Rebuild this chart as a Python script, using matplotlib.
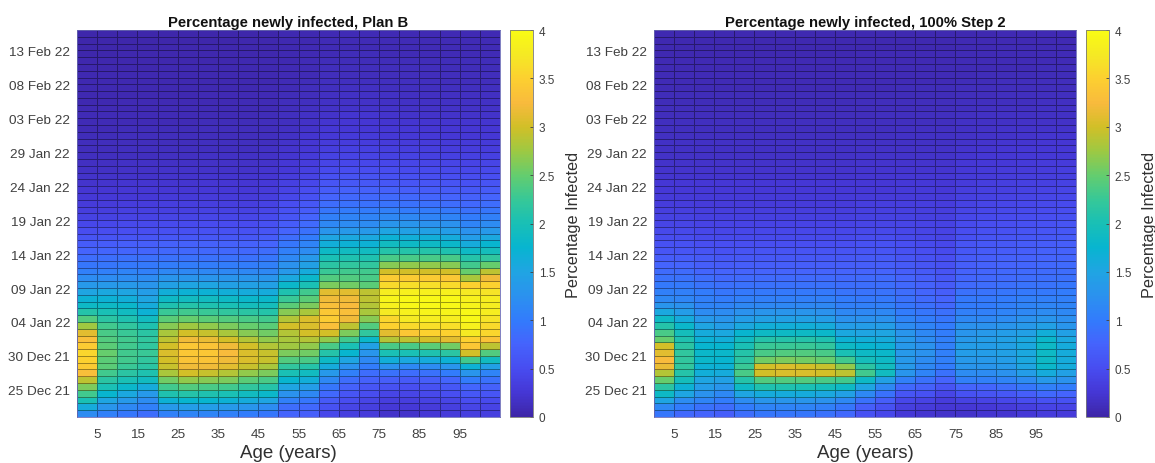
import numpy as np
import matplotlib
matplotlib.use('Agg')
import matplotlib.pyplot as plt
from matplotlib.colors import LinearSegmentedColormap

plt.rcParams['font.family'] = ['Liberation Sans', 'DejaVu Sans']

# Age bands are 5 years wide, rows are one day each, first row is 21 Dec 21
age_edges = np.arange(0, 110, 5)
day_edges = np.arange(0, 58)

x_ticks = [5, 15, 25, 35, 45, 55, 65, 75, 85, 95]
y_ticks = [4, 9, 14, 19, 24, 29, 34, 39, 44, 49, 54]
y_labels = ['25 Dec 21', '30 Dec 21', '04 Jan 22', '09 Jan 22', '14 Jan 22', '19 Jan 22',
            '24 Jan 22', '29 Jan 22', '03 Feb 22', '08 Feb 22', '13 Feb 22']
cbar_ticks = [0, 0.5, 1, 1.5, 2, 2.5, 3, 3.5, 4]
cbar_labels = ['0', '0.5', '1', '1.5', '2', '2.5', '3', '3.5', '4']

# Percentage newly infected, bottom row first
plan_b = [
    [1.2,1.05,.95,.85,1.05,1.1,1.1,1.05,1.0,.95,.75,.7,.45,.35,.3,.2,.2,.25,.3,.35,.35],
    [1.6,1.3,1.15,1.05,1.35,1.4,1.4,1.35,1.3,1.2,.85,.8,.55,.42,.35,.28,.28,.3,.35,.42,.4],
    [2.0,1.5,1.35,1.2,1.7,1.75,1.75,1.7,1.6,1.5,1.05,.95,.65,.5,.42,.34,.34,.38,.42,.5,.48],
    [2.3,1.75,1.55,1.35,2.05,2.1,2.05,2.0,1.9,1.8,1.25,1.15,.8,.6,.5,.42,.42,.46,.52,.62,.6],
    [2.6,2.0,1.8,1.6,2.3,2.4,2.35,2.3,2.2,2.1,1.5,1.4,.95,.72,.6,.55,.52,.56,.62,.78,.72],
    [2.9,2.15,2.0,1.9,2.55,2.7,2.65,2.6,2.45,2.35,1.75,1.65,1.15,.85,.72,.7,.65,.7,.78,1.0,.9],
    [3.3,2.3,2.15,2.05,2.8,3.0,2.95,2.85,2.7,2.6,2.0,1.9,1.35,1.05,.85,.9,.85,.9,1.0,1.3,1.1],
    [3.45,2.45,2.25,2.15,2.95,3.2,3.2,3.1,2.95,2.8,2.2,2.1,1.6,1.25,1.0,1.25,1.15,1.2,1.3,1.7,1.45],
    [3.5,2.45,2.3,2.2,3.0,3.35,3.35,3.2,3.05,2.95,2.4,2.35,1.85,1.5,1.15,1.65,1.55,1.6,1.7,2.3,1.9],
    [3.55,2.5,2.3,2.25,3.05,3.4,3.4,3.25,3.05,2.95,2.6,2.55,2.1,1.75,1.3,2.0,2.0,2.05,2.15,3.0,2.4],
    [3.45,2.45,2.3,2.2,3.0,3.4,3.35,3.2,3.0,2.85,2.75,2.7,2.35,2.0,1.45,2.35,2.35,2.45,2.55,3.4,2.9],
    [3.3,2.4,2.3,2.2,2.9,3.2,3.15,3.0,2.85,2.7,2.8,2.85,2.7,2.3,1.8,2.85,2.9,3.0,3.1,3.5,3.35],
    [3.1,2.35,2.25,2.15,2.8,3.0,2.95,2.8,2.65,2.55,2.85,3.0,3.0,2.6,2.2,3.1,3.4,3.5,3.5,3.75,3.55],
    [2.75,2.3,2.2,2.05,2.65,2.75,2.7,2.6,2.5,2.45,3.0,3.05,3.3,2.9,2.4,3.5,3.6,3.65,3.65,3.85,3.6],
    [2.4,2.15,2.05,1.9,2.45,2.5,2.45,2.4,2.35,2.3,2.85,3.05,3.45,3.2,2.65,3.55,3.75,3.8,3.8,3.95,3.7],
    [2.1,2.0,1.9,1.7,2.25,2.3,2.25,2.2,2.15,2.1,2.65,2.8,3.4,3.3,2.8,3.75,3.85,3.9,3.9,3.95,3.8],
    [1.85,1.85,1.8,1.6,2.05,2.1,2.05,2.0,1.95,1.95,2.45,2.6,3.3,3.25,2.85,3.85,3.95,3.95,3.95,3.9,3.8],
    [1.7,1.7,1.65,1.5,1.85,1.9,1.9,1.85,1.8,1.8,2.25,2.45,3.2,3.2,2.9,3.9,3.95,3.95,3.95,3.85,3.8],
    [1.5,1.55,1.5,1.4,1.65,1.7,1.7,1.65,1.6,1.6,2.05,2.3,3.1,3.1,2.9,3.8,3.85,3.85,3.85,3.75,3.7],
    [1.35,1.35,1.35,1.3,1.45,1.5,1.5,1.45,1.45,1.45,1.8,2.0,2.6,2.55,2.45,3.6,3.65,3.65,3.6,3.5,3.5],
    [1.2,1.2,1.2,1.2,1.3,1.3,1.3,1.3,1.3,1.3,1.55,1.8,2.4,2.4,2.35,3.45,3.45,3.45,3.4,2.8,3.2],
    [1.05,1.05,1.1,1.05,1.15,1.15,1.15,1.15,1.15,1.15,1.35,1.6,2.25,2.3,2.3,3.0,3.0,3.0,3.0,2.5,2.9],
    [.95,.95,.98,.98,1.02,1.02,1.02,1.02,1.02,1.05,1.25,1.45,2.15,2.2,2.2,2.65,2.7,2.7,2.65,2.3,2.5],
    [.85,.87,.88,.88,.9,.9,.9,.9,.9,.95,1.15,1.35,2.0,2.05,2.05,2.35,2.35,2.35,2.35,2.1,2.2],
    [.75,.78,.78,.78,.8,.8,.8,.8,.8,.85,1.05,1.2,1.85,1.9,1.9,2.1,2.1,2.1,2.05,1.85,1.95],
    [.68,.68,.7,.7,.72,.72,.72,.72,.72,.75,.95,1.1,1.65,1.7,1.7,1.9,1.85,1.85,1.8,1.6,1.75],
    [.58,.58,.6,.6,.62,.62,.62,.62,.62,.68,.85,1.0,1.5,1.55,1.55,1.7,1.65,1.65,1.6,1.4,1.55],
    [.5,.5,.52,.52,.54,.54,.55,.55,.55,.6,.75,.9,1.3,1.35,1.35,1.5,1.45,1.45,1.4,1.25,1.35],
    [.44,.44,.46,.46,.48,.48,.49,.49,.49,.54,.68,.82,1.15,1.2,1.2,1.3,1.3,1.25,1.25,1.1,1.2],
    [.38,.38,.4,.4,.42,.42,.43,.43,.43,.48,.6,.75,1.05,1.1,1.1,1.15,1.15,1.1,1.1,1.0,1.05],
    [.34,.34,.36,.36,.37,.37,.38,.38,.38,.43,.55,.68,.95,1.0,1.0,1.05,1.0,1.0,.98,.9,.95],
    [.3,.3,.32,.32,.33,.33,.34,.34,.34,.38,.5,.62,.85,.9,.9,.92,.9,.88,.85,.8,.85],
    [.27,.27,.28,.28,.29,.29,.3,.3,.3,.34,.45,.55,.75,.8,.8,.82,.8,.78,.75,.72,.75],
    [.24,.24,.25,.25,.26,.26,.27,.27,.27,.3,.4,.5,.68,.72,.72,.72,.7,.68,.66,.64,.66],
    [.21,.21,.22,.22,.23,.23,.24,.24,.24,.27,.36,.45,.6,.64,.64,.62,.6,.6,.58,.56,.58],
    [.19,.19,.2,.2,.21,.21,.22,.22,.22,.24,.32,.4,.54,.57,.57,.56,.54,.53,.52,.5,.52],
    [.17,.17,.18,.18,.19,.19,.2,.2,.2,.22,.28,.36,.48,.5,.5,.5,.48,.47,.46,.45,.46],
    [.15,.15,.16,.16,.17,.17,.18,.18,.18,.2,.25,.32,.42,.45,.45,.44,.43,.42,.41,.4,.41],
    [.14,.14,.14,.14,.15,.15,.16,.16,.16,.18,.23,.29,.38,.4,.4,.39,.38,.37,.36,.36,.36],
    [.12,.12,.13,.13,.14,.14,.14,.14,.14,.16,.21,.26,.34,.36,.36,.35,.34,.33,.32,.32,.32],
    [.11,.11,.12,.12,.12,.12,.13,.13,.13,.14,.19,.24,.3,.32,.32,.31,.3,.3,.29,.29,.29],
    [.1,.1,.11,.11,.11,.11,.12,.12,.12,.13,.17,.22,.27,.29,.29,.28,.27,.27,.26,.26,.26],
    [.09,.09,.1,.1,.1,.1,.11,.11,.11,.12,.15,.2,.25,.26,.26,.25,.25,.24,.24,.24,.24],
    [.08,.08,.09,.09,.09,.09,.1,.1,.1,.11,.14,.18,.22,.24,.24,.23,.22,.22,.22,.22,.22],
    [.08,.08,.08,.08,.08,.08,.09,.09,.09,.1,.13,.16,.2,.22,.22,.21,.2,.2,.2,.2,.2],
    [.07,.07,.07,.07,.08,.08,.08,.08,.08,.09,.12,.15,.18,.2,.2,.19,.18,.18,.18,.18,.18],
    [.06,.06,.07,.07,.07,.07,.07,.07,.08,.08,.11,.14,.17,.18,.18,.17,.17,.16,.16,.16,.16],
    [.06,.06,.06,.06,.06,.06,.07,.07,.07,.07,.1,.12,.15,.16,.16,.16,.15,.15,.15,.15,.15],
    [.05,.05,.06,.06,.06,.06,.06,.06,.06,.07,.09,.11,.14,.15,.15,.14,.14,.14,.14,.14,.14],
    [.05,.05,.05,.05,.05,.05,.06,.06,.06,.06,.08,.1,.13,.14,.14,.13,.13,.13,.12,.12,.12],
    [.05,.05,.05,.05,.05,.05,.05,.05,.05,.06,.07,.09,.12,.12,.12,.12,.12,.12,.11,.11,.11],
    [.04,.04,.04,.04,.05,.05,.05,.05,.05,.05,.07,.09,.11,.11,.11,.11,.11,.11,.1,.1,.1],
    [.04,.04,.04,.04,.04,.04,.04,.04,.05,.05,.06,.08,.1,.1,.1,.1,.1,.1,.1,.1,.1],
    [.03,.03,.04,.04,.04,.04,.04,.04,.04,.04,.06,.07,.09,.1,.1,.09,.09,.09,.09,.09,.09],
    [.03,.03,.03,.03,.04,.04,.04,.04,.04,.04,.05,.07,.08,.09,.09,.08,.08,.08,.08,.08,.08],
    [.03,.03,.03,.03,.03,.03,.03,.03,.04,.04,.05,.06,.08,.08,.08,.08,.08,.08,.08,.08,.08],
    [.03,.03,.03,.03,.03,.03,.03,.03,.03,.03,.05,.06,.07,.08,.08,.07,.07,.07,.07,.07,.07],
]

step_2 = [
    [.95,.8,.75,.7,.85,.95,.95,.95,.9,.8,.55,.45,.28,.22,.2,.2,.22,.22,.28,.32,.3],
    [1.15,1.0,.9,.85,1.0,1.1,1.1,1.1,1.05,.95,.7,.55,.35,.3,.25,.25,.28,.3,.35,.4,.4],
    [1.5,1.2,1.1,1.0,1.2,1.3,1.3,1.3,1.25,1.15,.9,.7,.45,.4,.32,.38,.4,.45,.5,.55,.55],
    [1.85,1.5,1.25,1.15,1.5,1.6,1.6,1.6,1.55,1.45,1.15,.9,.6,.55,.42,.55,.58,.62,.7,.8,.75],
    [2.15,1.7,1.4,1.3,1.85,2.05,2.05,2.0,1.95,1.85,1.5,1.15,.8,.72,.58,.75,.78,.85,.95,1.05,1.0],
    [2.5,1.95,1.5,1.45,2.1,2.4,2.4,2.4,2.35,2.3,1.85,1.45,1.05,.9,.75,1.05,1.05,1.1,1.2,1.35,1.25],
    [2.85,2.1,1.65,1.6,2.35,3.0,3.05,3.05,3.0,2.9,2.3,1.9,1.3,1.1,.9,1.2,1.2,1.25,1.4,1.6,1.45],
    [3.15,2.2,1.7,1.7,2.25,3.0,3.05,3.0,2.95,2.7,2.15,1.9,1.35,1.15,1.0,1.3,1.3,1.35,1.5,1.8,1.6],
    [3.25,2.2,1.8,1.75,2.15,2.55,2.6,2.55,2.5,2.3,1.95,1.85,1.35,1.2,1.05,1.35,1.35,1.4,1.55,1.85,1.6],
    [3.1,2.2,1.8,1.8,2.1,2.35,2.4,2.4,2.35,2.0,1.85,1.8,1.35,1.25,1.05,1.4,1.4,1.45,1.55,1.85,1.6],
    [3.0,2.15,1.75,1.75,2.0,2.25,2.25,2.25,2.2,1.85,1.75,1.7,1.35,1.25,1.05,1.4,1.4,1.45,1.55,1.85,1.6],
    [2.5,2.05,1.7,1.65,1.9,2.1,2.1,2.1,2.05,1.7,1.65,1.6,1.35,1.2,1.05,1.35,1.4,1.45,1.55,1.8,1.55],
    [2.35,1.95,1.6,1.55,1.75,1.85,1.85,1.85,1.8,1.55,1.5,1.5,1.3,1.15,1.02,1.3,1.35,1.4,1.45,1.65,1.45],
    [2.1,1.8,1.5,1.4,1.55,1.65,1.65,1.65,1.6,1.4,1.4,1.4,1.2,1.1,1.0,1.25,1.25,1.3,1.35,1.45,1.3],
    [1.85,1.6,1.35,1.3,1.4,1.45,1.45,1.45,1.4,1.25,1.25,1.25,1.1,1.02,.95,1.15,1.15,1.2,1.25,1.3,1.22],
    [1.55,1.4,1.2,1.2,1.25,1.3,1.3,1.3,1.25,1.15,1.15,1.15,1.0,.95,.88,1.05,1.05,1.1,1.15,1.2,1.15],
    [1.3,1.25,1.1,1.1,1.15,1.15,1.15,1.15,1.15,1.05,1.05,1.05,.95,.88,.8,1.0,1.0,1.05,1.1,1.12,1.1],
    [1.15,1.12,1.05,1.02,1.05,1.05,1.05,1.05,1.05,1.0,.98,.98,.9,.82,.75,.98,.98,1.0,1.05,1.05,1.05],
    [1.05,1.05,1.0,.95,.98,.98,.98,.98,.98,.93,.92,.92,.85,.78,.7,.9,.92,.95,.98,.98,1.0],
    [.98,.98,.92,.88,.9,.9,.9,.9,.9,.87,.87,.87,.8,.74,.66,.82,.85,.88,.92,.92,.95],
    [.9,.9,.85,.8,.82,.82,.82,.82,.82,.8,.82,.82,.75,.7,.62,.78,.8,.82,.85,.87,.88],
    [.84,.84,.78,.75,.76,.76,.76,.76,.76,.75,.76,.76,.7,.65,.58,.74,.78,.8,.82,.84,.85],
    [.75,.75,.7,.68,.7,.7,.7,.7,.7,.7,.7,.7,.65,.6,.55,.7,.74,.76,.78,.8,.82],
    [.68,.68,.65,.62,.64,.64,.64,.64,.64,.64,.65,.65,.6,.56,.52,.66,.7,.72,.74,.76,.78],
    [.6,.6,.58,.56,.58,.58,.58,.58,.58,.58,.6,.6,.56,.52,.48,.62,.66,.68,.7,.72,.74],
    [.55,.55,.53,.52,.53,.53,.53,.53,.53,.53,.55,.55,.52,.48,.45,.58,.62,.64,.66,.68,.7],
    [.5,.5,.48,.47,.48,.48,.48,.48,.48,.48,.5,.5,.48,.45,.42,.54,.58,.6,.62,.64,.66],
    [.46,.46,.44,.43,.44,.44,.44,.44,.44,.44,.46,.46,.45,.42,.4,.5,.54,.56,.58,.6,.62],
    [.42,.42,.4,.4,.4,.4,.4,.4,.4,.4,.42,.42,.42,.4,.38,.47,.5,.52,.54,.56,.58],
    [.38,.38,.37,.37,.37,.37,.37,.37,.37,.37,.39,.39,.39,.37,.36,.44,.47,.49,.5,.52,.54],
    [.35,.35,.34,.34,.34,.34,.34,.34,.34,.34,.36,.36,.36,.35,.34,.41,.44,.46,.47,.49,.5],
    [.32,.32,.31,.31,.31,.31,.31,.31,.31,.31,.33,.33,.33,.33,.32,.38,.41,.43,.44,.46,.47],
    [.29,.29,.29,.29,.29,.29,.29,.29,.29,.29,.3,.3,.31,.31,.3,.36,.38,.4,.41,.43,.44],
    [.27,.27,.27,.27,.27,.27,.27,.27,.27,.27,.28,.28,.29,.29,.28,.33,.36,.37,.39,.4,.41],
    [.25,.25,.25,.25,.25,.25,.25,.25,.25,.25,.26,.26,.27,.27,.26,.31,.33,.35,.36,.37,.38],
    [.23,.23,.23,.23,.23,.23,.23,.23,.23,.23,.24,.24,.25,.25,.25,.29,.31,.32,.33,.34,.35],
    [.21,.21,.21,.21,.21,.21,.21,.21,.21,.21,.22,.22,.23,.23,.23,.27,.29,.3,.31,.32,.33],
    [.2,.2,.2,.2,.2,.2,.2,.2,.2,.2,.21,.21,.21,.21,.21,.25,.27,.28,.29,.3,.3],
    [.18,.18,.18,.18,.18,.18,.18,.18,.18,.18,.19,.19,.2,.2,.2,.23,.25,.26,.27,.28,.28],
    [.17,.17,.17,.17,.17,.17,.17,.17,.17,.17,.18,.18,.18,.18,.18,.21,.23,.24,.25,.26,.26],
    [.16,.16,.16,.16,.16,.16,.16,.16,.16,.16,.17,.17,.17,.17,.17,.2,.21,.22,.23,.24,.24],
    [.15,.15,.15,.15,.15,.15,.15,.15,.15,.15,.15,.15,.16,.16,.16,.18,.2,.2,.21,.22,.22],
    [.14,.14,.14,.14,.14,.14,.14,.14,.14,.14,.14,.14,.15,.15,.15,.17,.18,.19,.19,.2,.2],
    [.13,.13,.13,.13,.13,.13,.13,.13,.13,.13,.13,.13,.14,.14,.14,.16,.17,.17,.18,.18,.18],
    [.12,.12,.12,.12,.12,.12,.12,.12,.12,.12,.12,.13,.13,.13,.13,.15,.16,.16,.16,.17,.17],
    [.11,.11,.11,.11,.11,.11,.11,.11,.11,.11,.12,.12,.12,.12,.12,.14,.15,.15,.15,.16,.16],
    [.1,.1,.1,.1,.1,.1,.1,.1,.1,.1,.11,.11,.11,.11,.11,.13,.13,.14,.14,.15,.15],
    [.1,.1,.1,.1,.1,.1,.1,.1,.1,.1,.1,.1,.1,.1,.1,.12,.12,.13,.13,.14,.14],
    [.09,.09,.09,.09,.09,.09,.09,.09,.09,.09,.09,.09,.1,.1,.1,.11,.11,.12,.12,.12,.12],
    [.08,.08,.08,.08,.08,.08,.08,.08,.08,.08,.09,.09,.09,.09,.09,.1,.1,.11,.11,.11,.11],
    [.08,.08,.08,.08,.08,.08,.08,.08,.08,.08,.08,.08,.08,.08,.08,.09,.1,.1,.1,.1,.1],
    [.07,.07,.07,.07,.07,.07,.07,.07,.07,.07,.08,.08,.08,.08,.08,.09,.09,.09,.09,.1,.1],
    [.07,.07,.07,.07,.07,.07,.07,.07,.07,.07,.07,.07,.07,.07,.07,.08,.08,.09,.09,.09,.09],
    [.06,.06,.06,.06,.06,.06,.06,.06,.06,.06,.07,.07,.07,.07,.07,.08,.08,.08,.08,.08,.08],
    [.06,.06,.06,.06,.06,.06,.06,.06,.06,.06,.06,.06,.06,.06,.06,.07,.07,.08,.08,.08,.08],
    [.05,.05,.05,.05,.05,.05,.05,.05,.05,.05,.06,.06,.06,.06,.06,.07,.07,.07,.07,.07,.07],
    [.05,.05,.05,.05,.05,.05,.05,.05,.05,.05,.05,.05,.05,.05,.05,.06,.06,.07,.07,.07,.07],
]

# MATLAB parula, every 4th entry
parula = LinearSegmentedColormap.from_list('parula', [
    (.2422,.1504,.6603), (.2706,.2147,.8364), (.2813,.3006,.9414), (.2699,.3892,.9906),
    (.1963,.4847,.9892), (.1687,.5703,.9359), (.1248,.6459,.8883), (.0297,.7082,.8163),
    (.0964,.7500,.7120), (.2161,.7843,.5923), (.3909,.8029,.4354), (.6174,.7876,.2612),
    (.8203,.7498,.1535), (.9728,.7298,.2394), (.9892,.8136,.1885), (.9597,.9135,.1423),
    (.9769,.9839,.0805)])

W, H = 1155, 464
fig = plt.figure(figsize=(W / 100, H / 100), dpi=100)


def add_box(x0, x1, y0, y1):
    return fig.add_axes([x0 / W, 1 - y1 / H, (x1 - x0) / W, (y1 - y0) / H])


def draw_panel(values, title, x0, x1, cb0, cb1):
    ax = add_box(x0, x1, 31, 418)
    mesh = ax.pcolormesh(age_edges, day_edges, np.array(values), cmap=parula, vmin=0, vmax=4,
                         edgecolors=(0, 0, 0, 0.38), linewidth=0.7)
    ax.set_xticks(x_ticks)
    ax.set_xticklabels([str(t) for t in x_ticks])
    ax.set_yticks(y_ticks)
    ax.set_yticklabels(y_labels)
    ax.tick_params(length=0, labelsize=9.7, labelcolor='#404040', pad=5)
    ax.tick_params(axis='x', pad=8)
    ax.set_xlabel('Age (years)', fontsize=13.5, color='#303030', labelpad=3)
    ax.set_title(title, fontsize=10.7, fontweight='bold', color='#111111', pad=3)
    for s in ax.spines.values():
        s.set_color('#6a6ab8')
        s.set_linewidth(0.6)

    cax = add_box(cb0, cb1, 31, 418)
    cb = fig.colorbar(mesh, cax=cax)
    cb.set_ticks(cbar_ticks)
    cb.set_ticklabels(cbar_labels)
    cb.ax.tick_params(direction='in', length=2, width=0.6, color='#404040',
                      labelsize=8.5, labelcolor='#404040', pad=4)
    cb.outline.set_edgecolor('#777777')
    cb.outline.set_linewidth(0.6)
    cb.set_label('Percentage Infected', fontsize=11.7, color='#303030', labelpad=8)


draw_panel(plan_b, 'Percentage newly infected, Plan B', 77, 500, 510, 533)
draw_panel(step_2, 'Percentage newly infected, 100% Step 2', 654, 1076, 1086, 1109)

fig.savefig('out.png', dpi=100)
